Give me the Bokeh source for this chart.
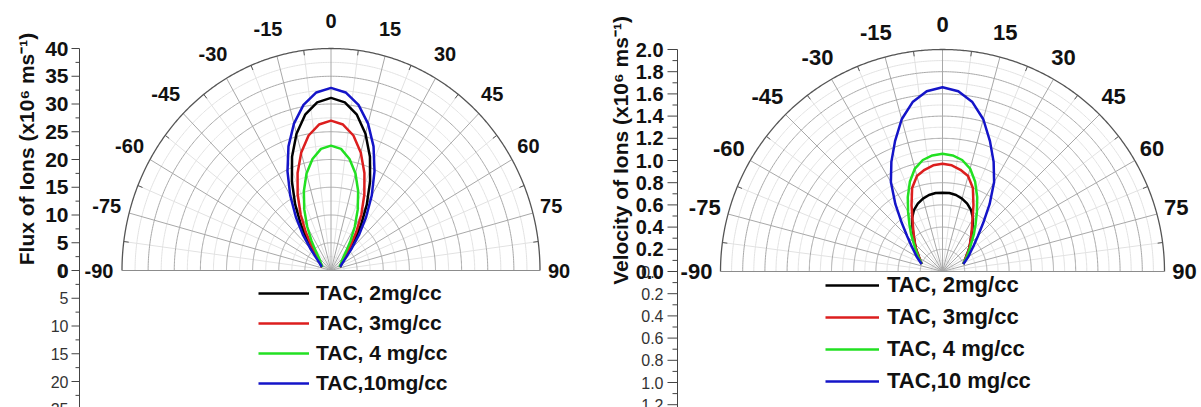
import numpy as np
from bokeh.plotting import figure
from bokeh.models import Range1d, Legend, LegendItem
from bokeh.layouts import row
from bokeh.embed import file_html
from bokeh.resources import INLINE
from bokeh.core.properties import value

FONT = "Liberation Sans"
HEIGHT = 407

# ---------------- data ----------------
# emission angle in degrees, measured from the target normal
angle_deg = [-70, -65, -60, -55, -50, -45, -40, -35, -30, -25, -20, -15, -10, -5, 0,
             5, 10, 15, 20, 25, 30, 35, 40, 45, 50, 55, 60, 65, 70]

# ion flux (x10^6 ms^-1)
flux_2mg = [1.8, 2.0, 2.3, 2.7, 3.4, 4.6, 6.9, 10.0, 13.7, 17.7, 21.8, 25.5, 28.5, 30.4, 31.1,
            30.4, 28.5, 25.5, 21.8, 17.7, 13.7, 10.0, 6.9, 4.6, 3.4, 2.7, 2.3, 2.0, 1.8]
flux_3mg = [1.8, 2.0, 2.2, 2.6, 3.1, 4.0, 5.8, 8.4, 11.6, 15.1, 18.7, 22.0, 24.7, 26.4, 27.0,
            26.4, 24.7, 22.0, 18.7, 15.1, 11.6, 8.4, 5.8, 4.0, 3.1, 2.6, 2.2, 2.0, 1.8]
flux_4mg = [1.8, 1.9, 2.1, 2.4, 2.7, 3.3, 4.5, 6.5, 9.1, 12.1, 15.2, 18.1, 20.4, 22.0, 22.5,
            22.0, 20.4, 18.1, 15.2, 12.1, 9.1, 6.5, 4.5, 3.3, 2.7, 2.4, 2.1, 1.9, 1.8]
flux_10mg = [1.9, 2.1, 2.4, 3.0, 3.9, 5.6, 8.3, 11.7, 15.6, 19.7, 23.8, 27.4, 30.3, 32.2, 32.9,
             32.2, 30.3, 27.4, 23.8, 19.7, 15.6, 11.7, 8.3, 5.6, 3.9, 3.0, 2.4, 2.1, 1.9]

# ion velocity (x10^6 ms^-1)
vel_2mg = [0.20, 0.22, 0.24, 0.27, 0.31, 0.35, 0.40, 0.47, 0.55, 0.61, 0.65, 0.68, 0.70, 0.71, 0.71,
           0.71, 0.70, 0.68, 0.65, 0.61, 0.55, 0.47, 0.40, 0.35, 0.31, 0.27, 0.24, 0.22, 0.20]
vel_3mg = [0.20, 0.22, 0.24, 0.27, 0.31, 0.35, 0.40, 0.46, 0.54, 0.66, 0.80, 0.89, 0.93, 0.96, 0.97,
           0.96, 0.93, 0.89, 0.80, 0.66, 0.54, 0.46, 0.40, 0.35, 0.31, 0.27, 0.24, 0.22, 0.20]
vel_4mg = [0.20, 0.22, 0.25, 0.28, 0.32, 0.37, 0.44, 0.52, 0.62, 0.74, 0.86, 0.96, 1.02, 1.05, 1.06,
           1.05, 1.02, 0.96, 0.86, 0.74, 0.62, 0.52, 0.44, 0.37, 0.32, 0.28, 0.25, 0.22, 0.20]
vel_10mg = [0.20, 0.23, 0.27, 0.31, 0.37, 0.45, 0.57, 0.74, 0.93, 1.09, 1.25, 1.42, 1.55, 1.63, 1.66,
            1.63, 1.55, 1.42, 1.25, 1.09, 0.93, 0.74, 0.57, 0.45, 0.37, 0.31, 0.27, 0.23, 0.20]

flux_labels = ["TAC, 2mg/cc", "TAC, 3mg/cc", "TAC, 4 mg/cc", "TAC,10mg/cc"]
vel_labels = ["TAC, 2mg/cc", "TAC, 3mg/cc", "TAC, 4 mg/cc", "TAC,10 mg/cc"]
series_colors = ["#000000", "#dc1e1e", "#22e022", "#1414c8"]

angle_ticks = [-90, -75, -60, -45, -30, -15, 0, 15, 30, 45, 60, 75, 90]
flux_ticks_up = [0, 5, 10, 15, 20, 25, 30, 35, 40]
flux_ticks_down = [0, 5, 10, 15, 20, 25]
vel_ticks_up = [0.0, 0.2, 0.4, 0.6, 0.8, 1.0, 1.2, 1.4, 1.6, 1.8, 2.0]
vel_ticks_down = [0.0, 0.2, 0.4, 0.6, 0.8, 1.0, 1.2]

MINOR_GRID = "#e2e2e2"
MAJOR_GRID = "#a8a8a8"


def polar_panel(s, angles, radii, labels, ticks_up, ticks_down, fmt):
    width, ox, oy, sx, sy = s["width"], s["ox"], s["oy"], s["sx"], s["sy"]
    rmax, step = s["rmax"], s["ring_step"]
    ybot = -(HEIGHT - oy) / sy
    p = figure(width=width, height=HEIGHT,
               x_range=Range1d(-ox / sx, (width - ox) / sx),
               y_range=Range1d(ybot, oy / sy),
               x_axis_type=None, y_axis_type=None, min_border=0,
               output_backend="svg", toolbar_location=None)
    p.outline_line_color = None
    p.background_fill_color = "white"
    p.border_fill_color = "white"

    def hx(px):  # screen x -> data x
        return (px - ox) / sx

    def hy(py):  # screen y -> data y
        return (oy - py) / sy

    # --- polar grid: rings and spokes ---
    th = np.radians(np.linspace(-90, 90, 361))
    n = int(round(rmax / step))
    rings = [k * step for k in range(1, n)]
    minor_r = [r for k, r in enumerate(rings, 1) if k % 2]
    major_r = [r for k, r in enumerate(rings, 1) if not k % 2]

    def ring_xy(rs):
        return ([list(r * np.sin(th)) for r in rs], [list(r * np.cos(th)) for r in rs])

    spoke_a = np.arange(-82.5, 83, 7.5)
    minor_a = [a for a in spoke_a if a % 15]
    major_a = [a for a in spoke_a if not a % 15]

    def spoke_xy(angs):
        return ([[0, rmax * np.sin(np.radians(a))] for a in angs],
                [[0, rmax * np.cos(np.radians(a))] for a in angs])

    p.multi_line(*ring_xy(minor_r), line_color=MINOR_GRID, line_width=1)
    p.multi_line(*spoke_xy(minor_a), line_color=MINOR_GRID, line_width=1)
    p.multi_line(*ring_xy(major_r), line_color=MAJOR_GRID, line_width=1)
    p.multi_line(*spoke_xy(major_a), line_color=MAJOR_GRID, line_width=1)
    p.line(rmax * np.sin(th), rmax * np.cos(th), line_color="#555555", line_width=1.3)
    p.segment(x0=[-rmax], y0=[0], x1=[rmax], y1=[0], line_color="#8c8c8c", line_width=1.2)

    # small inward ticks on the outer ring between the labelled spokes
    ma = np.radians(minor_a)
    p.segment(x0=rmax * np.sin(ma), y0=rmax * np.cos(ma),
              x1=(rmax * sx - 5) / sx * np.sin(ma), y1=(rmax * sy - 5) / sy * np.cos(ma),
              line_color="#555555", line_width=1)

    # --- series ---
    th_s = np.radians(np.array(angles, dtype=float))
    items = []
    for r, c, lab in zip(radii, series_colors, labels):
        r = np.array(r, dtype=float)
        rend = p.line(r * np.sin(th_s), r * np.cos(th_s), line_color=c, line_width=2.5)
        items.append(LegendItem(label=lab, renderers=[rend]))

    # --- radial scale drawn as a vertical axis on the left ---
    ax = hx(s["axis_px"])
    p.segment(x0=[ax], y0=[ybot], x1=[ax], y1=[rmax], line_color="#444444", line_width=1)
    kmin = -int(np.floor(-ybot / step))
    ks = list(range(kmin, n + 1))
    maj = [k * step for k in ks if k % 2 == 0]
    mnr = [k * step for k in ks if k % 2]
    p.segment(x0=[ax - s["tick_major"] / sx] * len(maj), y0=maj, x1=[ax] * len(maj), y1=maj,
              line_color="#444444", line_width=1)
    p.segment(x0=[ax - s["tick_minor"] / sx] * len(mnr), y0=mnr, x1=[ax] * len(mnr), y1=mnr,
              line_color="#444444", line_width=1)

    lab_x = hx(s["label_px"])
    p.text(x=[lab_x] * len(ticks_down), y=[-v for v in ticks_down],
           text=[fmt(v) for v in ticks_down], text_align="right", text_baseline="middle",
           text_font=value(FONT), text_font_size=s["down_font"], text_color="#333333")
    p.text(x=[lab_x] * len(ticks_up), y=ticks_up, text=[fmt(v) for v in ticks_up],
           text_align="right", text_baseline="middle", text_font=value(FONT),
           text_font_style="bold", text_font_size=s["up_font"], text_color="#111111")

    # --- angle labels around the rim ---
    a = np.radians(angle_ticks)
    ax_lab = (rmax * sx + s["ang_dx"]) / sx * np.sin(a)
    ay_lab = (rmax * sy + s["ang_dy"]) / sy * np.cos(a)
    p.text(x=list(ax_lab), y=list(ay_lab), text=[str(t) for t in angle_ticks],
           x_offset=[-4 if t < 0 else 0 for t in angle_ticks],
           text_align="center", text_baseline="middle", text_font=value(FONT),
           text_font_style="bold", text_font_size=s["ang_font"], text_color="#111111")

    # --- radial axis title ---
    p.text(x=[hx(s["title_px"][0])], y=[hy(s["title_px"][1])], text=[s["title"]],
           angle=np.pi / 2, text_align="center", text_baseline="middle",
           text_font=value(FONT), text_font_style="bold", text_font_size=s["title_font"],
           text_color="#111111")

    leg = Legend(items=items, location=s["legend_loc"], glyph_width=s["glyph_w"],
                 glyph_height=24, label_height=24, spacing=6, padding=0, margin=0,
                 label_standoff=s["standoff"], label_text_font=FONT,
                 label_text_font_style="bold", label_text_font_size=s["legend_font"],
                 label_text_color="#111111", border_line_alpha=0, background_fill_alpha=0)
    p.add_layout(leg)
    return p


flux_spec = dict(width=590, ox=330.5, oy=270, sx=5.225, sy=5.55, rmax=40, ring_step=2.5,
                 axis_px=79, tick_major=8, tick_minor=4, label_px=68,
                 up_font="21px", down_font="16px", ang_font="20px", ang_dx=19, ang_dy=28,
                 title="Flux of Ions (x10\u2076 ms\u207b\u00b9)", title_px=(26, 148.5),
                 title_font="21px", legend_loc=(258, 12), glyph_w=51, standoff=7,
                 legend_font="21px")

vel_spec = dict(width=611, ox=352, oy=271, sx=111, sy=111, rmax=2.0, ring_step=0.1,
                axis_px=87, tick_major=10, tick_minor=5, label_px=73,
                up_font="20px", down_font="16px", ang_font="22px", ang_dx=20, ang_dy=25,
                title="Velocity of Ions (x10\u2076 ms\u207b\u00b9)", title_px=(30, 150),
                title_font="21px", legend_loc=(235, 13), glyph_w=54, standoff=8,
                legend_font="22px")

left = polar_panel(flux_spec, angle_deg, [flux_2mg, flux_3mg, flux_4mg, flux_10mg],
                   flux_labels, flux_ticks_up, flux_ticks_down, lambda v: f"{v:g}")
right = polar_panel(vel_spec, angle_deg, [vel_2mg, vel_3mg, vel_4mg, vel_10mg],
                    vel_labels, vel_ticks_up, vel_ticks_down, lambda v: f"{v:.1f}")

layout = row(left, right)
open("out.html", "w").write(file_html(layout, INLINE, title="Ion flux and velocity"))
